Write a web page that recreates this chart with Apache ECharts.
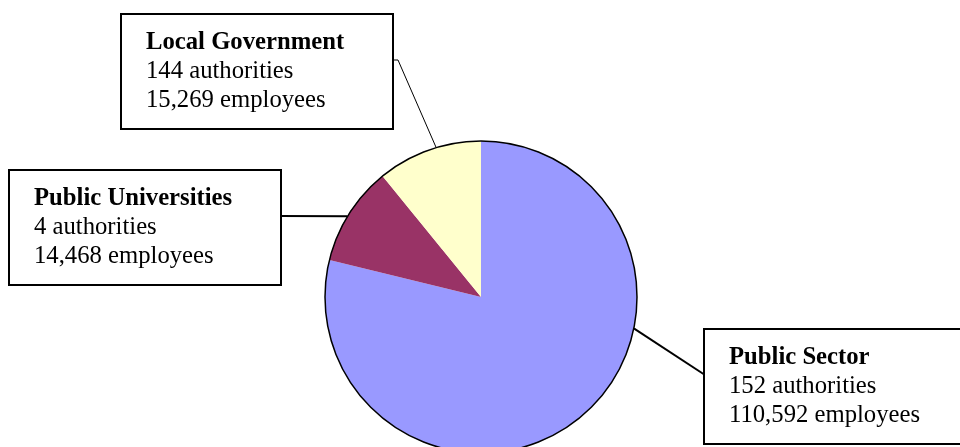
<!DOCTYPE html>
<html>
<head>
<meta charset="utf-8">
<script src="https://cdn.jsdelivr.net/npm/echarts@6/dist/echarts.min.js"></script>
<style>
  html, body { margin: 0; padding: 0; background: #ffffff; }
  #chart { width: 960px; height: 447px; }
</style>
</head>
<body>
<div id="chart"></div>
<script>
// Workforce by sector
const categories = ['Public Sector', 'Public Universities', 'Local Government'];
const authorities = [152, 4, 144];
const employees = [110592, 14468, 15269];
const sliceColors = ['#9999FF', '#993366', '#FFFFCC'];

// Callout boxes: top-left corner, side the leader leaves from,
// rim angle (degrees clockwise from 12 o'clock) the leader points at
const calloutLayout = [
  { x: 705, y: 330, side: 'left',  rimAngle: 101.6, bend: 0, lineWidth: 2 },
  { x: 10,  y: 171, side: 'right', rimAngle: 301.2, bend: 0, lineWidth: 2 },
  { x: 122, y: 15,  side: 'right', rimAngle: 343.3, bend: 6, lineWidth: 1 }
];
const BOX_W = 270;
const ATTACH_DY = 45;
const CENTER = [481, 297];
const RADIUS = 156;
const FONT = '"Liberation Serif", "Times New Roman", serif';
const FONT_SIZE = 24.7;

function rimPoint(deg) {
  const a = deg * Math.PI / 180;
  return [CENTER[0] + RADIUS * Math.sin(a), CENTER[1] - RADIUS * Math.cos(a)];
}

const pieData = categories.map((name, i) => ({
  name: name,
  value: employees[i],
  itemStyle: { color: sliceColors[i] },
  labelLine: { lineStyle: { width: calloutLayout[i].lineWidth } }
}));

const chart = echarts.init(document.getElementById('chart'), null, { renderer: 'canvas' });

chart.setOption({
  animation: false,
  backgroundColor: '#ffffff',
  series: [
    {
      type: 'pie',
      center: CENTER,
      radius: RADIUS,
      startAngle: 90,
      clockwise: true,
      avoidLabelOverlap: false,
      silent: true,
      itemStyle: { borderWidth: 0 },
      data: pieData,
      label: {
        show: true,
        position: 'outside',
        formatter: (p) => {
          const i = p.dataIndex;
          return '{t|' + categories[i] + '}\n' +
                 '{v|' + authorities[i] + ' authorities}\n' +
                 '{v|' + employees[i].toLocaleString('en-US') + ' employees}';
        },
        width: BOX_W - 24,
        padding: [13, 0, 13, 24],
        backgroundColor: '#ffffff',
        borderColor: '#000000',
        borderWidth: 2,
        color: '#000000',
        rich: {
          t: { fontFamily: FONT, fontSize: FONT_SIZE, fontWeight: 'bold', lineHeight: 29, color: '#000' },
          v: { fontFamily: FONT, fontSize: FONT_SIZE, lineHeight: 29, color: '#000' }
        }
      },
      labelLine: {
        show: true,
        lineStyle: { color: '#000000', width: 2 }
      },
      labelLayout: (params) => {
        const c = calloutLayout[params.dataIndex];
        const attachX = c.side === 'left' ? c.x : c.x + BOX_W;
        const attachY = c.y + ATTACH_DY;
        const pts = [rimPoint(c.rimAngle)];
        if (c.bend) pts.push([attachX + c.bend, attachY]);
        pts.push([attachX, attachY]);
        return {
          x: c.x,
          y: c.y,
          align: 'left',
          verticalAlign: 'top',
          labelLinePoints: pts
        };
      }
    },
    {
      // rim outline drawn over the slices
      type: 'pie',
      center: CENTER,
      radius: RADIUS,
      silent: true,
      z: 3,
      data: [{ value: 1 }],
      itemStyle: { color: 'rgba(0,0,0,0)', borderColor: '#000000', borderWidth: 1.5 },
      label: { show: false },
      labelLine: { show: false },
      emphasis: { disabled: true }
    }
  ]
});
</script>
</body>
</html>
